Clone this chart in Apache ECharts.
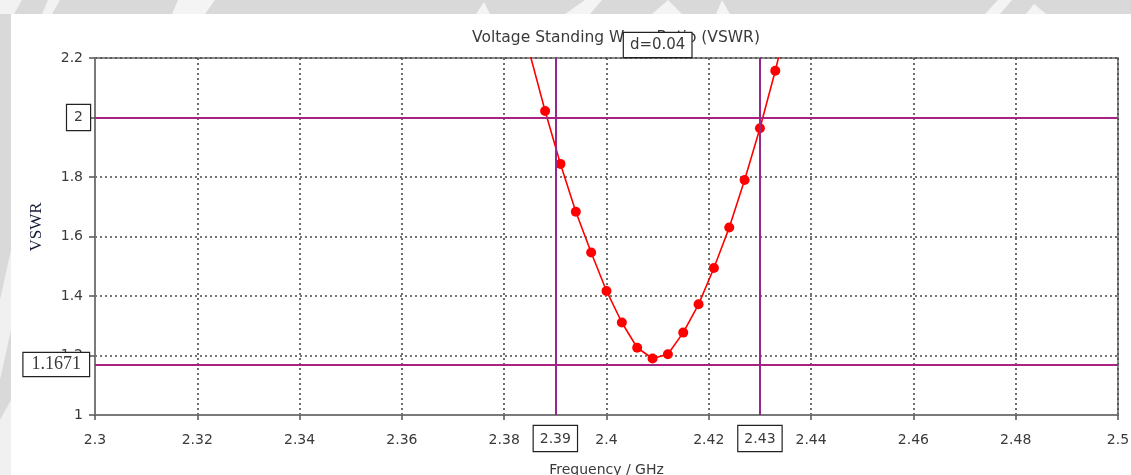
<!DOCTYPE html>
<html>
<head>
<meta charset="utf-8">
<script src="https://cdn.jsdelivr.net/npm/echarts@6/dist/echarts.min.js"></script>
<style>
  html, body { margin: 0; padding: 0; background: #d9d9d9; }
  #chart { width: 1131px; height: 475px; }
</style>
</head>
<body>
<div id="chart"></div>
<script>
// Sweep frequencies (GHz) and measured VSWR at each step
const freqs = [2.385, 2.388, 2.391, 2.394, 2.397, 2.400, 2.403, 2.406, 2.409,
               2.412, 2.415, 2.418, 2.421, 2.424, 2.427, 2.430, 2.433, 2.436];
const vswr  = [2.215, 2.022, 1.844, 1.683, 1.546, 1.417, 1.311, 1.226, 1.190,
               1.204, 1.277, 1.372, 1.494, 1.630, 1.790, 1.964, 2.157, 2.370];

// Marker lines: VSWR = 2 band edges and the minimum VSWR level
const vswrLimit = 2;
const vswrMin = 1.1671;
const bandEdges = [2.39, 2.43];

const xTicks = { min: 2.3, max: 2.5, step: 0.02 };
const yTicks = { min: 1, max: 2.2, step: 0.2 };

const titleText = 'Voltage Standing Wave Ratio (VSWR)';
const xName = 'Frequency / GHz';
const yName = 'VSWR';

const uiFont = '"DejaVu Sans", Verdana, sans-serif';
const serifFont = '"Liberation Serif", "Times New Roman", serif';
const textColor = '#3a3a3a';
const hColor = '#a8237f';
const vColor = '#97278f';

const boxLabel = {
  show: true,
  color: textColor,
  fontFamily: uiFont,
  fontSize: 14,
  backgroundColor: '#ffffff',
  borderColor: '#222',
  borderWidth: 1.2,
  padding: [6, 6, 5, 6]
};

const chart = echarts.init(document.getElementById('chart'));

const baseGraphic = [
  // white sheet behind the plot
  { type: 'rect', shape: { x: 11, y: 14, width: 1120, height: 461 },
    style: { fill: '#ffffff' }, z: -10 },
  // faint emblem shapes on the grey border
  { type: 'polygon', shape: { points: [[0, 0], [22, 0], [14, 14], [0, 14]] }, style: { fill: '#f2f2f2' }, z: -9 },
  { type: 'polygon', shape: { points: [[48, 0], [60, 0], [52, 14], [42, 14]] }, style: { fill: '#f2f2f2' }, z: -9 },
  { type: 'polygon', shape: { points: [[178, 0], [215, 0], [205, 14], [172, 14]] }, style: { fill: '#f4f4f4' }, z: -9 },
  { type: 'polygon', shape: { points: [[476, 14], [484, 2], [490, 14]] }, style: { fill: '#f4f4f4' }, z: -9 },
  { type: 'polygon', shape: { points: [[565, 14], [585, 0], [602, 0], [590, 14]] }, style: { fill: '#f4f4f4' }, z: -9 },
  { type: 'polygon', shape: { points: [[652, 14], [668, 0], [682, 14]] }, style: { fill: '#f4f4f4' }, z: -9 },
  { type: 'polygon', shape: { points: [[716, 14], [722, 0], [730, 14]] }, style: { fill: '#f4f4f4' }, z: -9 },
  { type: 'polygon', shape: { points: [[985, 14], [998, 0], [1012, 0], [1000, 14]] }, style: { fill: '#f4f4f4' }, z: -9 },
  { type: 'polygon', shape: { points: [[1026, 14], [1034, 4], [1046, 14]] }, style: { fill: '#f4f4f4' }, z: -9 },
  { type: 'polygon', shape: { points: [[0, 300], [11, 250], [11, 330], [0, 380]] }, style: { fill: '#f0f0f0' }, z: -9 },
  { type: 'polygon', shape: { points: [[0, 420], [11, 400], [11, 475], [0, 475]] }, style: { fill: '#f0f0f0' }, z: -9 },
  // vertical axis title
  { type: 'text', x: 37, y: 227, rotation: Math.PI / 2, z: 10,
    style: { text: yName, align: 'center', verticalAlign: 'middle',
             fontFamily: serifFont, fontSize: 17, fill: '#141b36' } }
];

const option = {
  animation: false,
  backgroundColor: '#d9d9d9',
  graphic: baseGraphic,
  title: {
    text: titleText,
    left: 611,
    textAlign: 'center',
    top: 25,
    textStyle: { fontFamily: uiFont, fontSize: 15.5, fontWeight: 'normal', color: textColor }
  },
  grid: {
    left: 95, right: 13, top: 58, bottom: 60,
    outerBoundsMode: 'none',
    containLabel: false,
    show: true, borderColor: '#8a8a8a', borderWidth: 2, backgroundColor: 'transparent'
  },
  xAxis: {
    type: 'value',
    min: xTicks.min, max: xTicks.max, interval: xTicks.step,
    name: xName, nameLocation: 'middle', nameGap: 48,
    nameTextStyle: { fontFamily: uiFont, fontSize: 14, color: textColor },
    axisLine: { lineStyle: { color: '#7a7a7a', width: 2 } },
    axisTick: { show: true, length: 5, lineStyle: { color: '#555', width: 1.5 } },
    axisLabel: {
      margin: 18, fontFamily: uiFont, fontSize: 14, color: textColor,
      formatter: v => String(+v.toFixed(2))
    },
    splitLine: { show: true, lineStyle: { color: '#4a4a4a', width: 1.6, type: [2, 3] } }
  },
  yAxis: {
    type: 'value',
    min: yTicks.min, max: yTicks.max, interval: yTicks.step,
    axisLine: { lineStyle: { color: '#7a7a7a', width: 2 } },
    axisTick: { show: true, length: 6, lineStyle: { color: '#555', width: 1.5 } },
    axisLabel: {
      margin: 12, fontFamily: uiFont, fontSize: 14, color: textColor,
      formatter: v => String(+v.toFixed(1))
    },
    splitLine: { show: true, lineStyle: { color: '#4a4a4a', width: 1.6, type: [2, 3] } }
  },
  series: [{
    type: 'line',
    data: freqs.map((f, i) => [f, vswr[i]]),
    clip: true,
    symbol: 'circle',
    symbolSize: 10,
    lineStyle: { color: '#ff0000', width: 1.6 },
    itemStyle: { color: '#ff0000' },
    z: 3,
    markLine: {
      silent: true,
      symbol: 'none',
      animation: false,
      data: [
        { yAxis: vswrLimit, lineStyle: { color: hColor, width: 2, type: 'solid' },
          label: Object.assign({}, boxLabel, { position: 'start', distance: 5, formatter: String(vswrLimit), padding: [6, 7, 5, 7] }) },
        { yAxis: vswrMin, lineStyle: { color: hColor, width: 2, type: 'solid' },
          label: Object.assign({}, boxLabel, { position: 'start', distance: 6, formatter: String(vswrMin),
                                               fontFamily: serifFont, fontSize: 18, padding: [3, 8, 2, 8] }) },
        ...bandEdges.map(x => ({
          xAxis: x, lineStyle: { color: vColor, width: 2, type: 'solid' },
          label: Object.assign({}, boxLabel, { position: 'start', distance: 11, formatter: String(x), padding: [6, 6, 5, 6] })
        }))
      ]
    }
  }]
};

chart.setOption(option);

// Bandwidth readout between the two band-edge markers, sitting on the plot's top edge
const dVal = +(bandEdges[1] - bandEdges[0]).toFixed(2);
const p1 = chart.convertToPixel({ gridIndex: 0 }, [bandEdges[0], yTicks.max]);
const p2 = chart.convertToPixel({ gridIndex: 0 }, [bandEdges[1], yTicks.max]);
chart.setOption({
  graphic: baseGraphic.concat([{
    type: 'text',
    x: (p1[0] + p2[0]) / 2,
    y: p1[1] - 1,
    z: 100,
    style: {
      text: 'd=' + dVal,
      align: 'center',
      verticalAlign: 'bottom',
      fontFamily: uiFont,
      fontSize: 15,
      fill: textColor,
      backgroundColor: '#ffffff',
      borderColor: '#222',
      borderWidth: 1.2,
      padding: [5, 6, 4, 6]
    }
  }])
});
</script>
</body>
</html>
